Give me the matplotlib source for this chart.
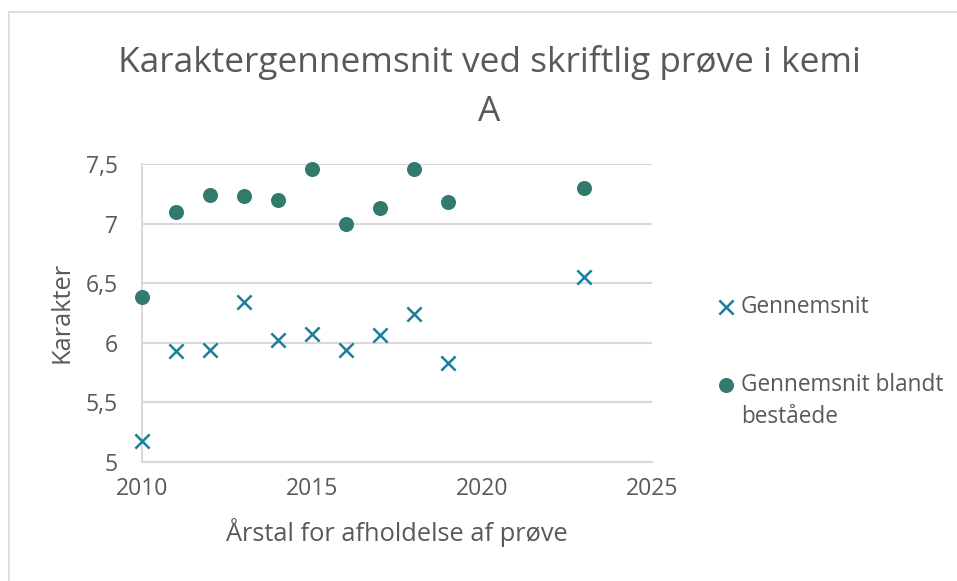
import matplotlib
matplotlib.use("Agg")
import matplotlib.pyplot as plt
from matplotlib.patches import Rectangle

plt.rcParams['font.family'] = ['Open Sans', 'DejaVu Sans']

years_avg = [2010, 2011, 2012, 2013, 2014, 2015, 2016, 2017, 2018, 2019, 2023]
gennemsnit = [5.17, 5.93, 5.94, 6.34, 6.02, 6.07, 5.94, 6.06, 6.24, 5.83, 6.55]
years_pass = [2010, 2011, 2012, 2013, 2014, 2015, 2016, 2017, 2018, 2019, 2023]
bestaaede = [6.38, 7.10, 7.24, 7.23, 7.20, 7.46, 7.00, 7.13, 7.46, 7.18, 7.30]

x_ticks = [2010, 2015, 2020, 2025]
y_ticks = [5, 5.5, 6, 6.5, 7, 7.5]
y_labels = ["5", "5,5", "6", "6,5", "7", "7,5"]

title_lines = ["Karaktergennemsnit ved skriftlig prøve i kemi", "A"]
xlabel = "Årstal for afholdelse af prøve"
ylabel = "Karakter"
labels = ["Gennemsnit", "Gennemsnit blandt"]
label2_cont = "beståede"

TXT = "#595959"
GRID = "#d9d9d9"
C_X = "#1a7f9a"
C_O = "#317a6c"

W, H = 957, 581
fig = plt.figure(figsize=(W / 100, H / 100), dpi=100)

# chart border
fig.patches.append(Rectangle((9 / W, -0.05), 1.1, 1 - 12 / H + 0.05,
                             transform=fig.transFigure, fill=False,
                             edgecolor=GRID, linewidth=1.2))

ax_h = 461.7 - 164
ax = fig.add_axes([141.7 / W, 1 - 461.7 / H, 510 / W, ax_h / H])
ax.set_xlim(2010, 2025)
ax.set_ylim(5, 7.5)
ax.set_xticks(x_ticks)
ax.set_xticklabels([str(t) for t in x_ticks])
ax.set_yticks(y_ticks)
ax.set_yticklabels(y_labels)
ax.yaxis.grid(True, color=GRID, linewidth=1.5)
ax.set_axisbelow(True)
for s in ["top", "right"]:
    ax.spines[s].set_visible(False)
for s in ["left", "bottom"]:
    ax.spines[s].set_color(GRID)
    ax.spines[s].set_linewidth(1.5)
ax.tick_params(axis="both", length=0, labelsize=16.5, labelcolor=TXT)
ax.tick_params(axis="x", pad=11)
ax.tick_params(axis="y", pad=17)

h1 = ax.scatter(years_avg, gennemsnit, marker="x", s=105, color=C_X,
                linewidths=1.8, zorder=3, clip_on=False, label=labels[0])
h2 = ax.scatter(years_pass, bestaaede, marker="o", s=117, color=C_O,
                linewidths=0, zorder=3, clip_on=False, label=labels[1])

ax.set_xlabel(xlabel, fontsize=18.3, color=TXT, va="center")
ax.xaxis.set_label_coords(0.5, (461.7 - 532.7) / ax_h)
ax.set_ylabel(ylabel, fontsize=18.3, color=TXT, va="center")
ax.yaxis.set_label_coords((62 - 141.7) / 510, 0.5)

for line, base in zip(title_lines, [71.7, 121.0]):
    fig.text(489 / W, 1 - base / H, line, ha="center", va="baseline",
             fontsize=25.4, color=TXT)

LEG_FS = 16.3
def make_legend(x_anchor, y_anchor, spacing):
    return fig.legend(handles=[h1, h2], labels=labels, loc="upper left",
                      bbox_to_anchor=(x_anchor / W, 1 - y_anchor / H),
                      frameon=False, fontsize=LEG_FS, labelcolor=TXT,
                      handlelength=0.6, handletextpad=0.35,
                      labelspacing=spacing, borderpad=0, borderaxespad=0)

# place legend so that text rows sit where the reference has them
target_x, target_y1, target_y2 = 741.0, 306.7, 385.0
xa, ya, sp = 715.0, 290.0, 2.4
for _ in range(3):
    leg = make_legend(xa, ya, sp)
    fig.canvas.draw()
    t1, t2 = [t.get_window_extent() for t in leg.get_texts()]
    c1 = H - (t1.y0 + t1.y1) / 2
    c2 = H - (t2.y0 + t2.y1) / 2
    gap = c2 - c1
    sp += ((target_y2 - target_y1) - gap) / (LEG_FS * 100 / 72)
    xa += target_x - t1.x0
    ya += target_y1 - c1
    leg.remove()
leg = make_legend(xa, ya, sp)
fig.canvas.draw()
t2 = leg.get_texts()[1].get_window_extent()
fig.text(t2.x0 / W, 1 - (H - (t2.y0 + t2.y1) / 2 + 31.7) / H, label2_cont,
         ha="left", va="center", fontsize=LEG_FS, color=TXT)

fig.savefig("out.png", dpi=100)
